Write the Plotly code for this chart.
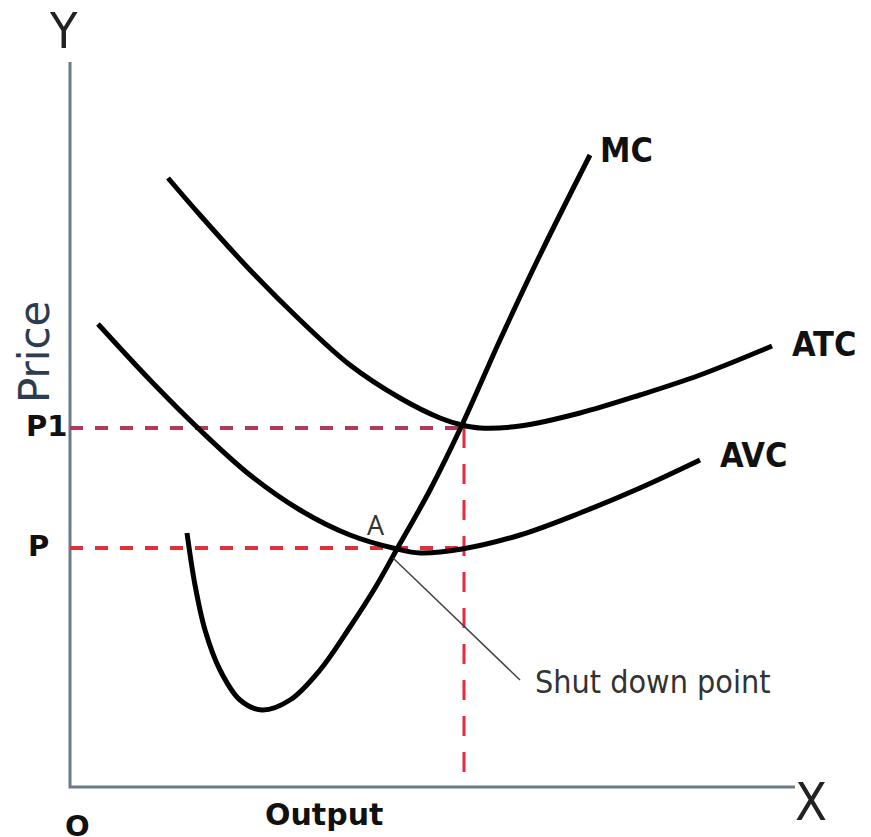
import plotly.graph_objects as go

# ---- data (schematic units: x = output, y = price) ----
atc_x = [98, 130, 180, 230, 280, 330, 370, 392, 410, 450, 510, 570, 630, 702]
atc_y = [609, 572, 517, 467, 422, 389, 369, 362, 359, 361, 374, 392, 412, 441]

avc_x = [28, 80, 130, 180, 230, 280, 327, 350, 392, 450, 510, 570, 630]
avc_y = [463, 407, 357, 312, 277, 252, 238, 234, 238, 252, 274, 299, 327]

mc_x = [117, 125, 135, 150, 170, 192, 220, 250, 280, 305, 327, 360, 392, 430, 470, 520]
mc_y = [254, 202, 157, 117, 87, 77, 87, 117, 160, 199, 238, 297, 362, 447, 532, 632]

axis_len = 725
p1_level = 359
p_level = 239
q1 = 393
shutdown_x = [323, 450]
shutdown_y = [229, 107]

NARROW = "DejaVu Sans Condensed, Liberation Sans Narrow, Arial Narrow, sans-serif"
WIDE = "DejaVu Sans, Verdana, sans-serif"

fig = go.Figure()

# axes
fig.add_trace(go.Scatter(x=[0, 0, axis_len], y=[axis_len, 0, 0], mode="lines",
                         line=dict(color="#6a7b8c", width=3), hoverinfo="skip"))

# dashed guide lines
fig.add_trace(go.Scatter(x=[0, q1], y=[p1_level, p1_level], mode="lines",
                         line=dict(color="#b23a57", width=4, dash="13px,12px"), hoverinfo="skip"))
fig.add_trace(go.Scatter(x=[0, q1], y=[p_level, p_level], mode="lines",
                         line=dict(color="#e0303a", width=4, dash="13px,12px"), hoverinfo="skip"))
fig.add_trace(go.Scatter(x=[q1 + 1, q1 + 1], y=[p1_level, 0], mode="lines",
                         line=dict(color="#e8283c", width=3, dash="20px,16px"), hoverinfo="skip"))

# cost curves
for xs, ys in [(atc_x, atc_y), (avc_x, avc_y), (mc_x, mc_y)]:
    fig.add_trace(go.Scatter(x=xs, y=ys, mode="lines",
                             line=dict(color="black", width=5, shape="spline", smoothing=1.0),
                             hoverinfo="skip"))

# shutdown pointer
fig.add_trace(go.Scatter(x=shutdown_x, y=shutdown_y, mode="lines",
                         line=dict(color="#444444", width=1.5), hoverinfo="skip"))

ann = [
    dict(text="MC", x=528, y=637, xanchor="left", font=dict(family=NARROW, size=34, color="#111"), bold=True),
    dict(text="ATC", x=720, y=443, xanchor="left", font=dict(family=NARROW, size=34, color="#111"), bold=True),
    dict(text="AVC", x=648, y=332, xanchor="left", font=dict(family=NARROW, size=34, color="#111"), bold=True),
    dict(text="A", x=306, y=263, xanchor="center", font=dict(family="Open Sans, sans-serif", size=27, color="#333"), bold=False),
    dict(text="Shut down point", x=463, y=105, xanchor="left", font=dict(family=NARROW, size=32, color="#333"), bold=False),
    dict(text="P1", x=-24, y=361, xanchor="center", font=dict(family=WIDE, size=29, color="#111"), bold=True),
    dict(text="P", x=-32, y=241, xanchor="center", font=dict(family=WIDE, size=29, color="#111"), bold=True),
    dict(text="O", x=7, y=-39, xanchor="center", font=dict(family=WIDE, size=29, color="#111"), bold=True),
    dict(text="Output", x=254, y=-27, xanchor="center", font=dict(family=WIDE, size=30, color="#111"), bold=True),
    dict(text="Y", x=-7, y=756, xanchor="center", font=dict(family=NARROW, size=50, color="#222"), bold=False),
    dict(text="X", x=741, y=-15, xanchor="center", font=dict(family=NARROW, size=52, color="#222"), bold=False),
]
for a in ann:
    t = "<b>%s</b>" % a["text"] if a["bold"] else a["text"]
    fig.add_annotation(text=t, x=a["x"], y=a["y"], xref="x", yref="y",
                       xanchor=a["xanchor"], yanchor="middle", showarrow=False, font=a["font"])

fig.add_annotation(text="Price", x=-36, y=435, xref="x", yref="y", textangle=-90,
                   showarrow=False, xanchor="center", yanchor="middle",
                   font=dict(family=WIDE, size=42, color="#2d3b4e"))

# page body has an 8px default margin: figure is 863x829 placed at (8, 8)
fig.update_layout(
    width=863, height=829,
    margin=dict(l=0, r=0, t=0, b=0),
    paper_bgcolor="white", plot_bgcolor="white",
    showlegend=False,
    xaxis=dict(range=[-62, 801], visible=False, fixedrange=True),
    yaxis=dict(range=[-50, 779], visible=False, fixedrange=True),
)

fig.write_html("out.html")
